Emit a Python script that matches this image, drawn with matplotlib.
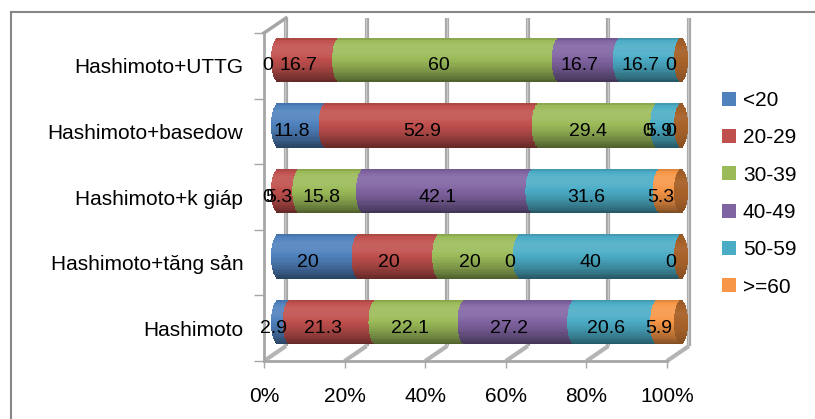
import numpy as np
import matplotlib.pyplot as plt
import matplotlib.transforms as mtransforms
from matplotlib.lines import Line2D
from matplotlib.patches import Patch
from matplotlib.colors import to_rgb

plt.rcParams['font.family'] = ['Liberation Sans', 'DejaVu Sans']

# Groups (bottom to top) and age bands
groups = ['Hashimoto', 'Hashimoto+tăng sản', 'Hashimoto+k giáp',
          'Hashimoto+basedow', 'Hashimoto+UTTG']
age_bands = ['<20', '20-29', '30-39', '40-49', '50-59', '>=60']

lt20 = [2.9, 20, 0, 11.8, 0]
a20_29 = [21.3, 20, 5.3, 52.9, 16.7]
a30_39 = [22.1, 20, 15.8, 29.4, 60]
a40_49 = [27.2, 0, 42.1, 0, 16.7]
a50_59 = [20.6, 40, 31.6, 5.9, 16.7]
ge60 = [5.9, 0, 5.3, 0, 0]

colors = ['#4F81BD', '#C0504D', '#9BBB59', '#8064A2', '#4BACC6', '#F79646']
cap_color = '#A8622A'
grid_gray = '#A6A6A6'

W, H = 815, 419
fig = plt.figure(figsize=(W / 100, H / 100), dpi=100)
fig.patch.set_facecolor('white')

# outer chart frame
fig.add_artist(Line2D([11 / W, 11 / W], [0, 1 - 12 / H], color='#868686', lw=1.5))
fig.add_artist(Line2D([11 / W, 1], [1 - 12 / H, 1 - 12 / H], color='#868686', lw=1.5))

ax = fig.add_axes([264 / W, (H - 361) / H, 403 / W, 328 / H])
ax.set_xlim(0, 100)
ax.set_ylim(-0.5, 4.5)
for sp in ax.spines.values():
    sp.set_visible(False)
ax.patch.set_alpha(0)


def shifted(dx, dy):
    return ax.transData + mtransforms.ScaledTranslation(dx / 100, dy / 100, fig.dpi_scale_trans)


def depth_point(x, y, dx, dy):
    p = ax.transData.transform((x, y)) + np.array([dx, dy])
    return ax.transData.inverted().transform(p)


back = shifted(22, 15)
bar_tr = shifted(14, 6)
label_tr = shifted(4, 0)

# back wall gridlines
for x in range(0, 101, 20):
    ax.plot([x, x], [-0.5, 4.5], transform=back, color=grid_gray, lw=3,
            solid_capstyle='butt', zorder=1, clip_on=False)
    ax.plot([x - 0.15, x - 0.15], [-0.5, 4.5], transform=back, color='#C8C8C8', lw=1,
            zorder=1, clip_on=False)
    # floor lines running back from the front axis
    q = depth_point(x, -0.5, 22, 15)
    ax.plot([x, q[0]], [-0.5, q[1]], color='#B4B4B4', lw=3, zorder=1,
            solid_capstyle='butt', clip_on=False)

# front edges
ax.plot([0, 100], [-0.5, -0.5], color=grid_gray, lw=2, zorder=2, clip_on=False)
ax.plot([0, 0], [-0.5, 4.5], color=grid_gray, lw=2, zorder=2, clip_on=False)
q = depth_point(0, 4.5, 22, 15)
ax.plot([0, q[0]], [4.5, q[1]], color=grid_gray, lw=2.5, zorder=1, clip_on=False)

# percent stacking
values = np.array([lt20, a20_29, a30_39, a40_49, a50_59, ge60], dtype=float)
pct = values / values.sum(axis=0) * 100
starts = np.vstack([np.zeros(len(groups)), np.cumsum(pct, axis=0)[:-1]])

ypos = np.arange(len(groups))
bar_h = 0.67
n_strips = 26
a = 1.75


def shade(c, f):
    rgb = np.array(to_rgb(c))
    if f < 1:
        return tuple(rgb * f)
    return tuple(rgb + (1 - rgb) * (f - 1))


# cylinders built from thin shaded strips, ends curved like an ellipse
for k in range(n_strips):
    u = (k + 0.5) / n_strips
    t = 2 * u - 1
    s = a * np.sqrt(max(1 - t * t, 0))
    f = np.interp(u, [0, 0.12, 0.35, 0.65, 0.82, 0.94, 1.0],
                  [0.50, 0.66, 0.88, 1.08, 1.10, 1.0, 0.85])
    yk = ypos - bar_h / 2 + u * bar_h
    hk = bar_h / n_strips * 1.15
    for j in range(len(age_bands)):
        ax.barh(yk, pct[j], left=starts[j] - s, height=hk, color=shade(colors[j], f),
                linewidth=0, transform=bar_tr, zorder=3, clip_on=False)
    fc = np.interp(u, [0, 0.3, 0.7, 1.0], [0.8, 0.95, 1.05, 0.9])
    ax.barh(yk, 2 * s, left=100 - s, height=hk, color=shade(cap_color, fc),
            linewidth=0, transform=bar_tr, zorder=4, clip_on=False)

# value labels
for j in range(len(age_bands)):
    for i in range(len(groups)):
        ax.text(starts[j, i] + pct[j, i] / 2, ypos[i], f'{values[j, i]:g}',
                transform=label_tr, ha='center', va='center', fontsize=14,
                color='black', zorder=5)

ax.set_xticks(range(0, 101, 20))
ax.set_xticklabels([f'{v}%' for v in range(0, 101, 20)], fontsize=15)
ax.tick_params(axis='x', length=5, color=grid_gray, width=1, pad=14)
ax.set_yticks(ypos)
ax.set_yticklabels(groups, fontsize=15)
ax.tick_params(axis='y', which='major', length=0, pad=15)
ax.set_yticks(np.arange(-0.5, 5, 1), minor=True)
ax.tick_params(axis='y', which='minor', length=7, color=grid_gray, width=1)

handles = [Patch(facecolor=c, edgecolor='none') for c in colors]
fig.legend(handles, age_bands, loc='upper left', bbox_to_anchor=(722 / W, 1 - 91 / H),
           frameon=False, fontsize=15, handlelength=0.65, handleheight=0.65,
           handletextpad=0.35, labelspacing=0.88, borderpad=0, borderaxespad=0)

fig.savefig('out.png', dpi=100)
